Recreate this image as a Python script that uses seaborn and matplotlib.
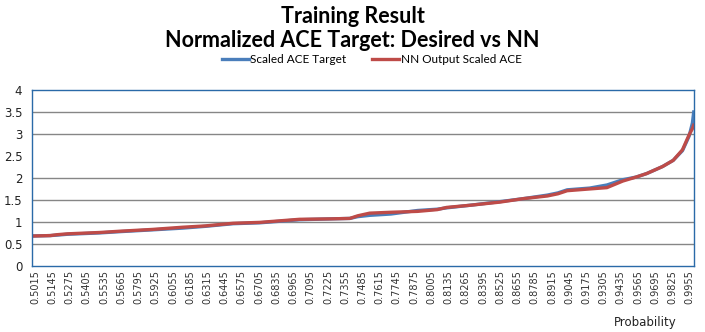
import matplotlib
matplotlib.use("Agg")
import matplotlib.pyplot as plt
import numpy as np
import pandas as pd
import seaborn as sns

sns.set_style({'axes.grid': False})
plt.rcParams['font.family'] = ['Lato', 'DejaVu Sans']

# DATA
probability = [0.4995, 0.513, 0.518, 0.526, 0.550, 0.566, 0.590, 0.613, 0.630, 0.651,
               0.671, 0.701, 0.725, 0.739, 0.745, 0.754, 0.770, 0.790, 0.805, 0.812,
               0.830, 0.852, 0.870, 0.888, 0.896, 0.903, 0.920, 0.933, 0.945, 0.955,
               0.963, 0.975, 0.983, 0.990, 0.995, 0.9975, 0.9985]
scaled_target = [0.68, 0.69, 0.70, 0.72, 0.75, 0.78, 0.82, 0.86, 0.90, 0.96,
                 0.98, 1.05, 1.07, 1.08, 1.12, 1.15, 1.18, 1.26, 1.29, 1.32,
                 1.38, 1.46, 1.53, 1.61, 1.66, 1.73, 1.77, 1.84, 1.96, 2.02,
                 2.10, 2.26, 2.40, 2.62, 2.95, 3.25, 3.50]
nn_output = [0.68, 0.69, 0.71, 0.73, 0.76, 0.79, 0.83, 0.88, 0.91, 0.97,
             0.99, 1.06, 1.07, 1.08, 1.14, 1.20, 1.22, 1.24, 1.28, 1.33,
             1.38, 1.45, 1.53, 1.59, 1.64, 1.71, 1.75, 1.78, 1.93, 2.02,
             2.10, 2.26, 2.40, 2.64, 2.98, 3.12, 3.20]
tick_labels = ['0.5015', '0.5145', '0.5275', '0.5405', '0.5535', '0.5665', '0.5795',
               '0.5925', '0.6055', '0.6185', '0.6315', '0.6445', '0.6575', '0.6705',
               '0.6835', '0.6965', '0.7095', '0.7225', '0.7355', '0.7485', '0.7615',
               '0.7745', '0.7875', '0.8005', '0.8135', '0.8265', '0.8395', '0.8525',
               '0.8655', '0.8785', '0.8915', '0.9045', '0.9175', '0.9305', '0.9435',
               '0.9565', '0.9695', '0.9825', '0.9955']
y_ticks = [0, 0.5, 1, 1.5, 2, 2.5, 3, 3.5, 4]
grid_levels = [0.5, 1, 1.5, 2, 3, 3.5]

df = pd.DataFrame({'Probability': probability,
                   'Scaled ACE Target': scaled_target,
                   'NN Output Scaled ACE': nn_output})

fig = plt.figure(figsize=(7.05, 3.32), dpi=100)
ax = fig.add_axes([0.0454, 0.199, 0.939, 0.530])

for lvl in grid_levels:
    ax.axhline(lvl, color='#868686', linewidth=1.0, zorder=0)

sns.lineplot(data=df, x='Probability', y='Scaled ACE Target', ax=ax,
             color='#4a7ebb', linewidth=2.4, label='Scaled ACE Target')
sns.lineplot(data=df, x='Probability', y='NN Output Scaled ACE', ax=ax,
             color='#be4b48', linewidth=2.4, label='NN Output Scaled ACE')

ax.set_xlim(0.4992, 0.9987)
ax.set_ylim(0, 4)
ax.set_xticks([float(t) for t in tick_labels])
ax.set_xticklabels(tick_labels, rotation=90, fontsize=7, color='#333333',
                   family='DejaVu Sans')
ax.set_yticks(y_ticks)
ax.set_yticklabels([f'{v:g}' for v in y_ticks], fontsize=8.5, color='#222222',
                   family='DejaVu Sans')
ax.tick_params(axis='both', length=0, pad=3)
ax.tick_params(axis='y', pad=7)
for side in ['left', 'right', 'top', 'bottom']:
    ax.spines[side].set_color('#2a6aa8')
    ax.spines[side].set_linewidth(1.0)
ax.set_ylabel('')
ax.set_xlabel('')
ax.patch.set_facecolor('white')

fig.text(0.50, 0.950, 'Training Result', ha='center', va='center',
         fontsize=15.5, fontweight='bold')
fig.text(0.50, 0.878, 'Normalized ACE Target: Desired vs NN', ha='center',
         va='center', fontsize=15.5, fontweight='bold')
fig.text(0.915, 0.028, 'Probability', ha='center', va='center', fontsize=8.5,
         color='#222222', family='DejaVu Sans')

leg = ax.legend(loc='center', bbox_to_anchor=(0.513, 1.175), ncol=2, frameon=False,
                fontsize=8.5, handlelength=2.3, columnspacing=2.2, handletextpad=0.1,
                borderaxespad=0, borderpad=0)

plt.savefig('out.png', dpi=100)
